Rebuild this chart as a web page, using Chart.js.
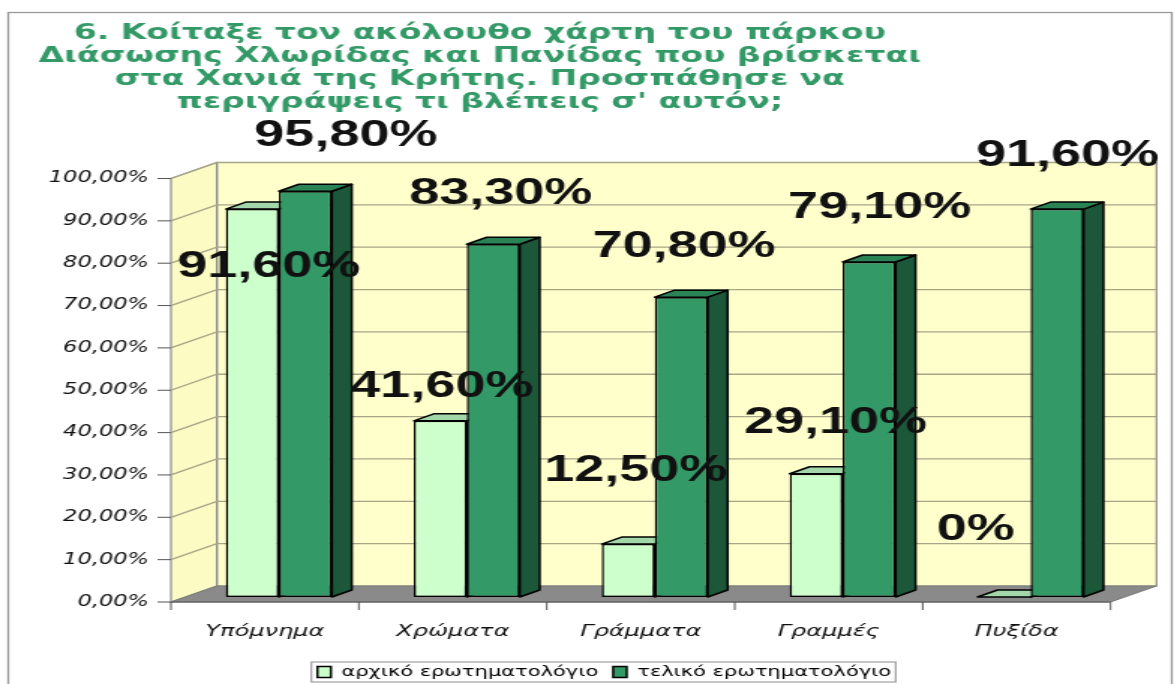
<!DOCTYPE html>
<html>
<head>
<meta charset="utf-8">
<script src="https://cdn.jsdelivr.net/npm/chart.js@4/dist/chart.umd.min.js"></script>
<style>
  html, body { margin: 0; padding: 0; background: #fff; overflow: hidden; }
  canvas { display: block; }
</style>
</head>
<body>
<!-- drawn narrow and stretched sideways, like the source picture -->
<canvas id="chart" width="783" height="700" style="width:1174px;height:700px"></canvas>
<script>
const categories = ['Υπόμνημα', 'Χρώματα', 'Γράμματα', 'Γραμμές', 'Πυξίδα'];
const initialScores = [91.6, 41.6, 12.5, 29.1, 0];
const finalScores = [95.8, 83.3, 70.8, 79.1, 91.6];
const yTicks = [0, 10, 20, 30, 40, 50, 60, 70, 80, 90, 100];
const seriesNames = ['αρχικό ερωτηματολόγιο', 'τελικό ερωτηματολόγιο'];
const titleLines = [
    '6. Κοίταξε τον ακόλουθο χάρτη του πάρκου',
    'Διάσωσης Χλωρίδας και Πανίδας που βρίσκεται',
    'στα Χανιά της Κρήτης. Προσπάθησε να',
    'περιγράψεις τι βλέπεις σ\' αυτόν;'
];

// 3d offsets (from the bar plane)
const FX = -9.3, FY = 5;     // front edge of floor / side wall
const BX = 21.3, BY = -11;   // back wall
const DX = 13.3, DY = -7;    // bar depth

const faceColors = [
    { top: '#a3d6a8', side: '#8dbf92' },
    { top: '#2a8354', side: '#1d573a' }
];

// where Excel dropped each value label, relative to the bar's top centre
const labelShift = [
    [[11, 58], [1, -34], [5, -73], [13, -51], [-19, -67]],
    [[27, -55], [5, -50], [2, -50], [7, -54], [7, -53]]
];

function pct(v) {
    return v === 0 ? '0%' : v.toFixed(2).replace('.', ',') + '%';
}

function poly(ctx, pts, fill, stroke, lw) {
    ctx.beginPath();
    ctx.moveTo(pts[0][0], pts[0][1]);
    for (let i = 1; i < pts.length; i++) ctx.lineTo(pts[i][0], pts[i][1]);
    ctx.closePath();
    if (fill) { ctx.fillStyle = fill; ctx.fill(); }
    if (stroke) { ctx.strokeStyle = stroke; ctx.lineWidth = lw || 1; ctx.stroke(); }
}

const framePlugin = {
    id: 'frame',
    beforeDraw(chart) {
        const ctx = chart.ctx;
        ctx.save();
        ctx.fillStyle = '#fff';
        ctx.fillRect(0, 0, chart.width, chart.height);
        ctx.strokeStyle = '#9a9a9a';
        ctx.lineWidth = 1.3;
        ctx.strokeRect(5.5, 12.5, chart.width - 7, chart.height);
        ctx.restore();
    },
    afterDraw(chart) {
        const ctx = chart.ctx;
        ctx.save();
        // title
        ctx.fillStyle = '#339966';
        ctx.font = 'bold 22px "DejaVu Sans"';
        ctx.textAlign = 'center';
        ctx.textBaseline = 'middle';
        titleLines.forEach((t, i) => ctx.fillText(t, 320, 33 + i * 23));
        // legend box
        const hb = chart.legend.legendHitBoxes;
        if (hb && hb.length) {
            const l = hb[0].left - 4;
            const r = hb[hb.length - 1].left + hb[hb.length - 1].width + 3;
            const t = hb[0].top - 3;
            const b = hb[0].top + hb[0].height + 3;
            ctx.strokeStyle = '#8c8c8c';
            ctx.lineWidth = 1;
            ctx.strokeRect(l, t, r - l, b - t);
        }
        ctx.restore();
    }
};

const wallsPlugin = {
    id: 'walls',
    beforeDatasetsDraw(chart) {
        const { ctx, chartArea: a, scales: { y } } = chart;
        const l = a.left, r = a.right;
        const y0 = y.getPixelForValue(0), y1 = y.getPixelForValue(100);
        ctx.save();
        poly(ctx, [[l + BX, y1 + BY], [r + BX, y1 + BY], [r + BX, y0 + BY], [l + BX, y0 + BY]], '#ffffcc', '#8c8c8c', 1.2);
        poly(ctx, [[l + FX, y1 + FY], [l + BX, y1 + BY], [l + BX, y0 + BY], [l + FX, y0 + FY]], '#fbfbc3', '#8c8c8c', 1.2);

        ctx.strokeStyle = '#a9a587';
        ctx.lineWidth = 1.3;
        yTicks.forEach(v => {
            if (v === 0) return;
            const p = y.getPixelForValue(v);
            ctx.beginPath();
            ctx.moveTo(l + FX, p + FY);
            ctx.lineTo(l + BX, p + BY);
            ctx.lineTo(r + BX, p + BY);
            ctx.stroke();
        });

        poly(ctx, [[l + FX, y0 + FY], [l + BX, y0 + BY], [r + BX, y0 + BY], [r + FX, y0 + FY]], '#8a8a8a', '#7a7a7a', 1);

        // front axis, tick marks
        ctx.strokeStyle = '#555';
        ctx.lineWidth = 1;
        ctx.beginPath();
        ctx.moveTo(l + FX, y0 + FY);
        ctx.lineTo(r + FX, y0 + FY);
        yTicks.forEach(v => {
            const p = y.getPixelForValue(v) + FY;
            ctx.moveTo(l + FX - 9, p);
            ctx.lineTo(l + FX, p);
        });
        const step = (r - l) / categories.length;
        for (let i = 0; i <= categories.length; i++) {
            ctx.moveTo(l + FX + i * step, y0 + FY);
            ctx.lineTo(l + FX + i * step, y0 + FY + 8);
        }
        ctx.stroke();

        // side and top faces of every bar, before the front faces go on
        ctx.lineJoin = 'round';
        chart.data.datasets.forEach((ds, i) => {
            const f = faceColors[i];
            chart.getDatasetMeta(i).data.forEach(bar => {
                const { x, y: top, base, width } = bar.getProps(['x', 'y', 'base', 'width'], true);
                const L = x - width / 2, R = x + width / 2;
                poly(ctx, [[R, top], [R + DX, top + DY], [R + DX, base + DY], [R, base]], f.side, '#000', 1.5);
                poly(ctx, [[L, top], [L + DX, top + DY], [R + DX, top + DY], [R, top]], f.top, '#000', 1.5);
            });
        });
        ctx.restore();
    }
};

const valueLabelsPlugin = {
    id: 'valueLabels',
    afterDatasetsDraw(chart) {
        const ctx = chart.ctx;
        ctx.save();
        ctx.font = 'bold 36px "Liberation Sans"';
        ctx.fillStyle = '#111';
        ctx.textAlign = 'center';
        ctx.textBaseline = 'middle';
        chart.data.datasets.forEach((ds, i) => {
            chart.getDatasetMeta(i).data.forEach((bar, j) => {
                const s = labelShift[i][j];
                ctx.fillText(pct(ds.data[j]), bar.x + s[0], bar.y + s[1]);
            });
        });
        ctx.restore();
    }
};

new Chart(document.getElementById('chart'), {
    type: 'bar',
    data: {
        labels: categories,
        datasets: [
            {
                label: seriesNames[0],
                data: initialScores,
                backgroundColor: '#ccffcc',
                borderColor: '#000',
                borderWidth: 1.5,
                borderSkipped: false
            },
            {
                label: seriesNames[1],
                data: finalScores,
                backgroundColor: '#339966',
                borderColor: '#000',
                borderWidth: 1.5,
                borderSkipped: false
            }
        ]
    },
    options: {
        responsive: false,
        animation: false,
        devicePixelRatio: 1,
        layout: { padding: { left: 23, right: 0, top: 173.5, bottom: 11 } },
        datasets: { bar: { categoryPercentage: 0.564, barPercentage: 1 } },
        scales: {
            x: {
                grid: { display: false },
                border: { display: false },
                afterFit: s => { s.height = 58; },
                ticks: {
                    padding: 17,
                    labelOffset: -9.3,
                    maxRotation: 0,
                    autoSkip: false,
                    color: '#111',
                    font: { family: 'DejaVu Sans', size: 16, style: 'italic' }
                }
            },
            y: {
                min: 0,
                max: 100,
                grid: { display: false },
                border: { display: false },
                afterFit: s => { s.width = 100.3; },
                afterBuildTicks: s => { s.ticks = yTicks.map(v => ({ value: v })); },
                ticks: {
                    padding: 16,
                    labelOffset: 5,
                    color: '#111',
                    font: { family: 'DejaVu Sans', size: 15, style: 'italic' },
                    callback: v => v.toFixed(2).replace('.', ',') + '%'
                }
            },
            yRight: {
                type: 'linear',
                position: 'right',
                min: 0,
                max: 100,
                grid: { display: false },
                border: { display: false },
                ticks: { display: false },
                afterFit: s => { s.width = 33; }
            }
        },
        plugins: {
            legend: {
                position: 'bottom',
                labels: {
                    boxWidth: 9,
                    boxHeight: 11,
                    padding: 10,
                    color: '#000',
                    font: { family: 'DejaVu Sans', size: 14 }
                }
            },
            title: { display: false },
            tooltip: { enabled: false }
        }
    },
    plugins: [framePlugin, wallsPlugin, valueLabelsPlugin]
});
</script>
</body>
</html>
